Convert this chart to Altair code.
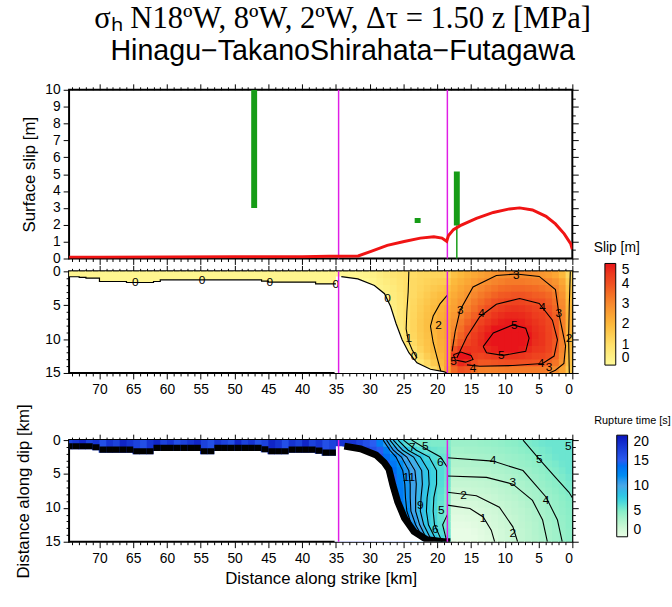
import altair as alt
import pandas as pd

# ---------------------------------------------------------------------------
# Fault geometry (km along strike, plotted from 74.5 km on the left to 0 km)
# ---------------------------------------------------------------------------
STRIKE_MAX = 74.5
SEGMENT_BREAKS_KM = [34.6, 18.5]

# Modelled surface slip along strike
SURF_KM = [74.5, 70.0, 60.0, 50.0, 40.0, 36.0, 34.6, 31.7, 29.8, 27.4, 24.9,
           22.5, 20.5, 19.3, 18.6, 18.35, 17.6, 16.6, 14.2, 11.7, 9.3, 7.8,
           5.9, 3.9, 2.5, 1.2, 0.25, 0.0]
SURF_SLIP = [0.08, 0.08, 0.09, 0.10, 0.11, 0.13, 0.13, 0.15, 0.43, 0.78, 1.01,
             1.21, 1.29, 1.21, 1.02, 1.35, 1.71, 1.95, 2.38, 2.73, 2.94, 3.00,
             2.88, 2.50, 2.05, 1.46, 0.88, 0.55]

# Observed surface offsets: position, lower and upper bound (m)
OBS_KM = [47.1, 22.9, 17.1]
OBS_LO = [3.0, 2.1, 1.95]
OBS_HI = [10.0, 2.4, 5.15]
OBS_STEM_KM = [17.1]
OBS_STEM_HI = [1.95]

# ---------------------------------------------------------------------------
# Slip on the fault plane (m): 15 depth rows (0.5 .. 14.5 km),
# 35 along-strike columns (0.5 .. 34.5 km)
# ---------------------------------------------------------------------------
SLIP = [
    [1.2, 2.0, 2.4, 2.6, 2.75, 2.85, 2.95, 3.0, 3.0, 2.95, 2.9, 2.8, 2.65, 2.5, 2.35, 2.2, 2.0, 1.8,
     1.25, 1.3, 1.3, 1.25, 1.2, 1.1, 1.0, 0.9, 0.8, 0.65, 0.5, 0.35, 0.25, 0.2, 0.15, 0.12, 0.1],
    [1.5, 2.4, 2.8, 3.0, 3.15, 3.2, 3.25, 3.3, 3.3, 3.3, 3.2, 3.1, 2.95, 2.8, 2.6, 2.4, 2.2, 2.0,
     1.5, 1.5, 1.45, 1.35, 1.25, 1.15, 1.0, 0.85, 0.7, 0.55, 0.4, 0.25, 0.1, 0.05, 0, 0, 0],
    [1.7, 2.6, 3.05, 3.3, 3.45, 3.55, 3.6, 3.65, 3.65, 3.6, 3.55, 3.4, 3.25, 3.05, 2.85, 2.6, 2.4, 2.15,
     1.8, 1.7, 1.6, 1.45, 1.3, 1.15, 1.0, 0.8, 0.6, 0.45, 0.3, 0.1, 0, 0, 0, 0, 0],
    [1.85, 2.8, 3.3, 3.6, 3.75, 3.8, 3.9, 3.95, 3.95, 3.9, 3.85, 3.7, 3.5, 3.3, 3.05, 2.8, 2.55, 2.3,
     2.0, 1.9, 1.75, 1.55, 1.35, 1.15, 1.0, 0.75, 0.55, 0.35, 0.1, 0, 0, 0, 0, 0, 0],
    [1.95, 2.95, 3.5, 3.8, 4.0, 4.05, 4.15, 4.25, 4.3, 4.25, 4.15, 4.0, 3.8, 3.55, 3.3, 3.0, 2.75, 2.45,
     2.1, 2.0, 1.85, 1.65, 1.45, 1.2, 0.97, 0.75, 0.5, 0.2, 0, 0, 0, 0, 0, 0, 0],
    [2.05, 3.05, 3.65, 3.95, 4.2, 4.3, 4.45, 4.55, 4.6, 4.55, 4.45, 4.3, 4.05, 3.8, 3.5, 3.2, 2.9, 2.55,
     2.3, 2.15, 1.95, 1.75, 1.5, 1.25, 0.97, 0.72, 0.45, 0.1, 0, 0, 0, 0, 0, 0, 0],
    [2.1, 3.15, 3.75, 4.1, 4.35, 4.45, 4.65, 4.75, 4.8, 4.8, 4.7, 4.55, 4.3, 4.05, 3.75, 3.45, 3.1, 2.7,
     2.4, 2.25, 2.05, 1.8, 1.55, 1.27, 0.97, 0.7, 0.35, 0, 0, 0, 0, 0, 0, 0, 0],
    [2.15, 3.2, 3.85, 4.2, 4.45, 4.6, 4.75, 4.9, 4.95, 4.95, 4.9, 4.75, 4.55, 4.3, 4.0, 3.7, 3.3, 2.85,
     2.45, 2.3, 2.1, 1.85, 1.6, 1.3, 0.97, 0.65, 0.3, 0, 0, 0, 0, 0, 0, 0, 0],
    [2.15, 3.2, 3.9, 4.25, 4.55, 4.7, 4.9, 5.1, 5.2, 5.2, 5.15, 5.0, 4.8, 4.55, 4.25, 3.95, 3.5, 3.0,
     2.45, 2.3, 2.1, 1.85, 1.6, 1.3, 0.95, 0.6, 0.2, 0, 0, 0, 0, 0, 0, 0, 0],
    [2.1, 3.2, 3.95, 4.3, 4.6, 4.75, 5.0, 5.25, 5.35, 5.35, 5.3, 5.15, 4.95, 4.7, 4.45, 4.1, 3.7, 3.2,
     2.45, 2.3, 2.05, 1.8, 1.55, 1.25, 0.9, 0.5, 0.1, 0, 0, 0, 0, 0, 0, 0, 0],
    [2.05, 3.15, 3.9, 4.3, 4.6, 4.7, 4.95, 5.2, 5.3, 5.3, 5.25, 5.1, 4.95, 4.75, 4.5, 4.3, 3.95, 3.5,
     2.4, 2.25, 2.0, 1.75, 1.5, 1.15, 0.8, 0.35, 0, 0, 0, 0, 0, 0, 0, 0, 0],
    [2.0, 3.1, 3.85, 4.25, 4.5, 4.55, 4.75, 4.95, 5.05, 5.05, 5.0, 4.9, 4.8, 4.65, 4.55, 4.6, 4.5, 4.0,
     2.4, 2.2, 1.95, 1.7, 1.35, 1.0, 0.6, 0.2, 0, 0, 0, 0, 0, 0, 0, 0, 0],
    [1.9, 3.0, 3.7, 4.05, 4.25, 4.3, 4.45, 4.55, 4.6, 4.6, 4.55, 4.5, 4.4, 4.3, 4.4, 5.1, 5.2, 4.6,
     2.4, 2.1, 1.8, 1.5, 1.1, 0.7, 0.35, 0.05, 0, 0, 0, 0, 0, 0, 0, 0, 0],
    [1.8, 2.8, 3.4, 3.7, 3.9, 3.95, 4.0, 4.0, 4.05, 4.05, 4.0, 3.95, 3.9, 3.9, 4.1, 4.6, 4.8, 4.2,
     2.4, 1.95, 1.55, 1.15, 0.75, 0.4, 0.1, 0, 0, 0, 0, 0, 0, 0, 0, 0, 0],
    [1.6, 2.5, 2.95, 3.15, 3.3, 3.3, 3.3, 3.3, 3.3, 3.3, 3.25, 3.2, 3.15, 3.2, 3.5, 3.9, 4.0, 3.6,
     2.5, 1.7, 1.15, 0.7, 0.35, 0.1, 0, 0, 0, 0, 0, 0, 0, 0, 0, 0, 0],
]

# Rupture time (s) on the same cells
RUPT = [
    [5.8, 5.8, 5.8, 5.8, 5.7, 5.5, 5.3, 5.1, 4.9, 4.8, 4.6, 4.5, 4.4, 4.3, 4.2, 4.2, 4.2, 4.2,
     5.3, 5.3, 5.3, 5.4, 5.5, 5.8, 6.5, 7.5, 9.0, 11.0, 13.0, 15.0, 16.0, 17.0, 18.0, 18.0, 18.0],
    [5.8, 5.8, 5.8, 5.6, 5.4, 5.2, 5.0, 4.8, 4.6, 4.5, 4.3, 4.2, 4.1, 4.0, 3.9, 3.9, 3.8, 3.8,
     5.5, 5.6, 5.8, 6.1, 6.6, 7.3, 8.2, 9.5, 11.0, 13.0, 15.0, 16.0, 17.0, 18.0, 18.0, 18.0, 18.0],
    [5.8, 5.8, 5.7, 5.4, 5.2, 5.0, 4.7, 4.5, 4.3, 4.2, 4.0, 3.9, 3.8, 3.7, 3.6, 3.5, 3.5, 3.5,
     5.8, 6.0, 6.5, 7.2, 8.0, 9.0, 10.0, 11.2, 12.5, 14.0, 16.0, 17.0, 18.0, 18.0, 18.0, 18.0, 18.0],
    [5.8, 5.7, 5.4, 5.2, 4.9, 4.7, 4.5, 4.3, 4.1, 3.9, 3.7, 3.6, 3.4, 3.3, 3.3, 3.2, 3.2, 3.2,
     6.0, 6.4, 7.0, 7.8, 8.7, 9.7, 10.8, 12.0, 13.5, 15.0, 16.0, 17.0, 18.0, 18.0, 18.0, 18.0, 18.0],
    [5.8, 5.5, 5.2, 5.0, 4.7, 4.5, 4.2, 4.0, 3.8, 3.6, 3.4, 3.3, 3.1, 3.0, 2.9, 2.9, 2.8, 2.8,
     6.0, 6.6, 7.3, 8.2, 9.2, 10.2, 11.3, 12.5, 14.0, 15.5, 17.0, 18.0, 18.0, 18.0, 18.0, 18.0, 18.0],
    [5.6, 5.3, 5.0, 4.8, 4.5, 4.2, 4.0, 3.8, 3.5, 3.3, 3.1, 3.0, 2.8, 2.7, 2.6, 2.5, 2.5, 2.5,
     5.9, 6.6, 7.4, 8.3, 9.3, 10.4, 11.5, 12.8, 14.5, 16.0, 17.0, 18.0, 18.0, 18.0, 18.0, 18.0, 18.0],
    [5.4, 5.1, 4.9, 4.6, 4.3, 4.0, 3.8, 3.5, 3.3, 3.1, 2.9, 2.7, 2.5, 2.4, 2.3, 2.2, 2.2, 2.2,
     5.7, 6.5, 7.3, 8.3, 9.3, 10.4, 11.6, 13.0, 14.5, 16.0, 17.0, 18.0, 18.0, 18.0, 18.0, 18.0, 18.0],
    [5.3, 5.0, 4.7, 4.4, 4.1, 3.8, 3.6, 3.3, 3.1, 2.8, 2.6, 2.4, 2.2, 2.1, 2.0, 1.9, 1.8, 1.8,
     5.5, 6.3, 7.2, 8.2, 9.2, 10.4, 11.7, 13.2, 15.0, 16.0, 17.0, 18.0, 18.0, 18.0, 18.0, 18.0, 18.0],
    [5.1, 4.8, 4.5, 4.2, 3.9, 3.7, 3.4, 3.1, 2.8, 2.6, 2.4, 2.1, 1.9, 1.8, 1.6, 1.6, 1.5, 1.5,
     5.3, 6.1, 7.0, 8.0, 9.1, 10.3, 11.7, 13.3, 15.0, 16.0, 17.0, 18.0, 18.0, 18.0, 18.0, 18.0, 18.0],
    [5.0, 4.7, 4.4, 4.1, 3.8, 3.5, 3.2, 2.9, 2.6, 2.4, 2.1, 1.9, 1.7, 1.5, 1.3, 1.2, 1.2, 1.2,
     5.2, 6.0, 6.9, 7.9, 9.0, 10.3, 11.8, 13.5, 15.0, 16.0, 17.0, 18.0, 18.0, 18.0, 18.0, 18.0, 18.0],
    [4.9, 4.6, 4.3, 4.0, 3.7, 3.3, 3.0, 2.7, 2.5, 2.2, 1.9, 1.6, 1.4, 1.2, 1.0, 0.9, 0.8, 0.8,
     5.2, 6.0, 6.9, 7.9, 9.0, 10.4, 12.0, 14.0, 15.0, 16.0, 17.0, 18.0, 18.0, 18.0, 18.0, 18.0, 18.0],
    [4.8, 4.5, 4.2, 3.9, 3.5, 3.2, 2.9, 2.6, 2.3, 2.0, 1.7, 1.4, 1.2, 0.9, 0.7, 0.6, 0.5, 0.5,
     5.3, 6.0, 6.9, 8.0, 9.3, 10.8, 12.5, 14.5, 15.0, 16.0, 17.0, 18.0, 18.0, 18.0, 18.0, 18.0, 18.0],
    [4.8, 4.4, 4.1, 3.8, 3.5, 3.1, 2.8, 2.5, 2.2, 1.9, 1.6, 1.3, 1.0, 0.7, 0.5, 0.3, 0.2, 0.2,
     5.5, 6.2, 7.1, 8.3, 9.8, 11.5, 13.5, 15.0, 15.0, 16.0, 17.0, 18.0, 18.0, 18.0, 18.0, 18.0, 18.0],
    [4.7, 4.4, 4.0, 3.7, 3.4, 3.1, 2.7, 2.4, 2.1, 1.8, 1.4, 1.1, 0.8, 0.5, 0.2, 0.0, 0.0, 0.0,
     5.8, 6.5, 7.5, 8.8, 10.5, 12.5, 14.5, 15.0, 15.0, 16.0, 17.0, 18.0, 18.0, 18.0, 18.0, 18.0, 18.0],
    [4.7, 4.3, 4.0, 3.7, 3.3, 3.0, 2.7, 2.4, 2.0, 1.7, 1.4, 1.0, 0.7, 0.4, 0.1, 0.0, 0.0, 0.0,
     6.2, 7.0, 8.2, 9.8, 11.8, 14.0, 15.0, 15.0, 15.0, 16.0, 17.0, 18.0, 18.0, 18.0, 18.0, 18.0, 18.0],
]

# Shallow ruptured strip on the northern segment (km 35 .. 74.5)
STRIP_EDGES = list(range(35, 75)) + [74.5]
STRIP_SLIP_DEPTH = [1.85, 1.85, 1.85, 1.6, 1.6, 1.6, 1.6, 1.6, 1.6, 1.6, 1.45,
                    1.25, 1.25, 1.25, 1.25, 1.25, 1.25, 1.25, 1.25, 1.25, 1.25,
                    1.25, 1.25, 1.25, 1.25, 1.25, 1.5, 1.65, 1.65, 1.65, 1.65,
                    1.5, 1.5, 1.5, 1.5, 1.0, 1.0, 0.9, 0.8, 0.8]
STRIP_SLIP = [0.2, 0.2, 0.2, 0.2, 0.2, 0.2, 0.2, 0.2, 0.2, 0.2, 0.2,
              0.18, 0.18, 0.18, 0.18, 0.18, 0.18, 0.18, 0.18, 0.18, 0.18,
              0.18, 0.18, 0.18, 0.18, 0.18, 0.18, 0.18, 0.18, 0.18, 0.18,
              0.18, 0.18, 0.18, 0.18, 0.2, 0.2, 0.2, 0.2, 0.2]
STRIP_RUPT_DEPTH = [2.3, 2.3, 2.0, 1.85, 1.85, 1.85, 1.85, 2.1, 2.1, 2.1, 1.8,
                    1.6, 1.6, 1.6, 1.6, 1.6, 1.6, 1.6, 2.1, 2.1, 1.6,
                    1.6, 1.6, 1.6, 1.6, 1.6, 1.6, 2.1, 2.1, 2.1, 1.85,
                    1.85, 1.85, 1.85, 1.85, 1.5, 1.35, 1.35, 1.35, 1.35]
STRIP_RUPT = [17, 16, 18, 17, 19, 17, 18, 16, 18, 19, 17,
              16, 18, 17, 19, 16, 17, 18, 16, 17, 19,
              18, 17, 16, 18, 17, 19, 18, 16, 17, 18,
              19, 17, 18, 16, 18, 17, 19, 18, 17]

# Edge of the unruptured area on the central segment (km, depth)
SLIP_EDGE_KM = [34.2, 31.75, 29.3, 27.8, 26.9, 26.1, 25.2, 24.2, 23.0, 21.0, 19.05, 18.5]
SLIP_EDGE_D = [0.77, 1.12, 2.08, 3.3, 5.2, 7.7, 10.1, 12.0, 13.5, 14.45, 14.8, 15.0]
RUPT_EDGE_KM = [34.2, 31.8, 29.5, 28.3, 27.6, 27.0, 26.3, 25.3, 23.9, 22.0, 19.5, 18.5]
RUPT_EDGE_D = [0.9, 1.3, 2.2, 3.3, 4.3, 6.7, 9.1, 11.5, 13.5, 14.7, 15.0, 15.0]

# Slip contours (m): (level id, km, depth)
SLIP_CONTOURS = {
    "5a": [(13.2, 11.1), (11.7, 9.1), (8.8, 7.9), (6.9, 8.4), (6.4, 9.85), (6.9, 11.8),
           (10.3, 12.4), (12.7, 12.0), (13.2, 11.1)],
    "5b": [(17.6, 12.3), (16.5, 11.9), (15.0, 12.4), (14.7, 13.0), (15.8, 13.4),
           (17.3, 13.1), (17.6, 12.3)],
    "4": [(17.1, 12.8), (15.6, 9.6), (13.7, 6.7), (11.25, 4.85), (7.8, 4.0), (4.9, 4.75),
          (2.95, 7.2), (2.2, 10.1), (2.7, 12.5), (4.4, 13.6), (8.8, 13.9), (13.7, 14.0),
          (15.6, 13.8)],
    "3": [(17.8, 11.8), (17.35, 8.9), (16.6, 5.7), (14.7, 2.3), (11.25, 0.6), (8.3, 0.4),
          (4.9, 0.75), (2.5, 2.7), (2.0, 6.2), (1.0, 11.0), (1.25, 13.6), (2.5, 14.6),
          (3.4, 15.0)],
    "2a": [(0.3, 0.0), (0.45, 5.0), (0.55, 9.9), (0.45, 15.0)],
    "2b": [(18.5, 3.5), (19.6, 4.8), (20.6, 6.6), (21.0, 8.1), (20.6, 10.5), (20.0, 12.8),
           (19.55, 14.45), (19.4, 15.0)],
    "1": [(24.2, 0.0), (24.3, 3.0), (24.5, 6.0), (24.6, 8.5), (24.3, 10.2), (23.7, 11.6),
          (23.0, 12.8)],
}
SLIP_LABELS = [("0", 64.7, 1.65), ("0", 54.8, 1.25), ("0", 44.8, 1.6), ("0", 35.0, 1.85),
               ("0", 27.35, 4.0), ("1", 24.2, 9.85), ("0", 23.45, 12.5), ("2", 19.8, 7.9),
               ("3", 8.3, 0.5), ("3", 16.6, 5.7), ("4", 13.45, 6.2), ("4", 4.4, 5.2),
               ("3", 2.0, 6.2), ("5", 8.6, 7.9), ("5", 10.5, 12.3), ("2", 0.5, 9.9),
               ("4", 4.65, 13.5), ("3", 3.45, 14.1), ("4", 14.7, 14.2), ("5", 17.6, 13.2)]

# Rupture-time contours (s)
RUPT_CONTOURS = {
    "1": [(18.5, 9.6), (15.15, 10.1), (13.2, 11.35), (12.0, 13.3), (11.5, 15.0)],
    "2": [(18.5, 7.7), (14.2, 8.2), (10.8, 9.9), (8.8, 12.8), (8.1, 15.0)],
    "3": [(18.5, 5.3), (12.7, 5.5), (8.8, 6.5), (5.9, 8.9), (4.4, 11.8), (3.7, 15.0)],
    "4": [(18.5, 2.6), (11.75, 3.1), (7.3, 4.5), (3.9, 8.4), (2.2, 11.8), (1.5, 15.0)],
    "5": [(7.3, 0.0), (4.9, 2.8), (2.5, 5.5), (0.5, 7.7), (0.0, 8.5)],
    "6a": [(23.8, 0.0), (21.3, 1.5), (19.5, 2.5), (18.5, 4.0)],
    "6b": [(18.5, 11.0), (19.2, 12.5), (18.7, 14.5), (18.5, 15.0)],
    "7": [(25.0, 0.0), (23.1, 1.5), (21.2, 2.5), (20.1, 4.5), (20.1, 6.5), (20.5, 8.5),
          (20.6, 10.5), (20.4, 12.5), (19.5, 14.5), (19.3, 15.0)],
    "8": [(25.8, 0.0), (24.3, 1.5), (22.5, 2.5), (21.3, 4.5), (21.2, 6.5), (21.5, 8.5),
          (21.6, 10.5), (21.3, 12.5), (20.3, 14.5), (20.0, 15.0)],
    "9": [(26.5, 0.0), (25.1, 1.5), (23.5, 2.5), (22.3, 4.5), (22.2, 6.5), (22.4, 8.5),
          (22.5, 10.5), (22.0, 12.5), (21.0, 14.5), (20.7, 15.0)],
    "10": [(27.0, 0.0), (25.8, 1.5), (24.5, 2.5), (23.3, 4.5), (23.1, 6.5), (23.2, 8.5),
           (23.2, 10.5), (22.6, 12.5), (21.6, 14.5), (21.3, 15.0)],
    "11": [(27.5, 0.0), (26.5, 1.5), (25.3, 2.5), (24.2, 4.5), (24.0, 6.5), (24.0, 8.5),
           (23.9, 10.5), (23.2, 12.5), (22.1, 14.5)],
    "12": [(28.0, 0.0), (27.0, 1.5), (26.1, 2.5), (25.1, 4.5), (24.8, 6.5), (24.7, 8.5),
           (24.5, 10.5), (23.8, 12.5), (22.6, 14.5)],
}
RUPT_LABELS = [("1", 13.2, 11.5), ("2", 16.1, 8.15), ("2", 8.8, 13.7), ("3", 8.8, 6.2),
               ("4", 11.75, 2.95), ("4", 3.9, 8.9), ("5", 4.9, 2.8), ("5", 0.6, 0.9),
               ("7", 23.7, 1.1), ("5", 21.75, 0.9), ("6", 19.55, 3.3), ("11", 24.2, 5.5),
               ("9", 22.5, 9.6), ("5", 19.4, 10.3), ("6", 20.3, 13.2)]

SLIP_STOPS = [0, 1, 2, 3, 4, 5]
SLIP_COLORS = ["#fffa98", "#ffe06a", "#fcb93c", "#f78a2e", "#f05022", "#e8141a"]
RUPT_STOPS = [0, 5, 10, 15, 20]
RUPT_COLORS = ["#e8fde6", "#88eec8", "#4aa8e8", "#2a5cf0", "#0a12bc"]

# ---------------------------------------------------------------------------
# Tables
# ---------------------------------------------------------------------------
cells = []
for i, (srow, trow) in enumerate(zip(SLIP, RUPT)):
    for j, (s, t) in enumerate(zip(srow, trow)):
        cells.append({"k0": j, "k1": j + 1, "d0": i, "d1": i + 1, "slip": s, "t": t})
cells = pd.DataFrame(cells)

strip = pd.DataFrame({
    "k0": STRIP_EDGES[:-1], "k1": STRIP_EDGES[1:],
    "top": 0.0,
    "sd": STRIP_SLIP_DEPTH, "slip": STRIP_SLIP,
    "td": STRIP_RUPT_DEPTH, "t": STRIP_RUPT,
})
strip_steps = pd.DataFrame(
    [{"k": k, "d": d, "o": 2 * n} for n, (k, d) in enumerate(zip(STRIP_EDGES[:-1], STRIP_SLIP_DEPTH))]
    + [{"k": k, "d": d, "o": 2 * n + 1} for n, (k, d) in enumerate(zip(STRIP_EDGES[1:], STRIP_SLIP_DEPTH))]
)

slip_edge = pd.DataFrame({"kb": SLIP_EDGE_KM, "d": SLIP_EDGE_D, "ke": 35.2})
rupt_edge = pd.DataFrame({"kb": RUPT_EDGE_KM, "d": RUPT_EDGE_D, "ke": 35.2})


def contour_table(contours):
    rows = []
    for cid, pts in contours.items():
        for n, (k, d) in enumerate(pts):
            rows.append({"cid": cid, "o": n, "k": k, "d": d})
    return pd.DataFrame(rows)


slip_lines = contour_table(SLIP_CONTOURS)
rupt_lines = contour_table(RUPT_CONTOURS)
slip_lbl = pd.DataFrame(SLIP_LABELS, columns=["txt", "k", "d"])
rupt_lbl = pd.DataFrame(RUPT_LABELS, columns=["txt", "k", "d"])

surf = pd.DataFrame({"k": SURF_KM, "s": SURF_SLIP})
obs = pd.DataFrame({"k": OBS_KM, "lo": OBS_LO, "hi": OBS_HI})
stem = pd.DataFrame({"k": OBS_STEM_KM, "lo": 0.0, "hi": OBS_STEM_HI})
breaks = pd.DataFrame({"k": SEGMENT_BREAKS_KM})
anchor = pd.DataFrame({"k": [0.0], "v": [0.0]})

# ---------------------------------------------------------------------------
# Scales and axes
# ---------------------------------------------------------------------------
FONT = "Liberation Sans"
xscale = alt.Scale(domain=[STRIKE_MAX, 0], nice=False, zero=False)
dscale = alt.Scale(domain=[0, 15], reverse=True, nice=False, zero=False)
sscale = alt.Scale(domain=[0, 10], nice=False)
slip_cs = alt.Scale(type="linear", domain=SLIP_STOPS, range=SLIP_COLORS, clamp=True)
rupt_cs = alt.Scale(type="linear", domain=RUPT_STOPS, range=RUPT_COLORS, clamp=True)

major5 = {"condition": {"test": "datum.value % 5 === 0", "value": 6}, "value": 3}
major1 = {"condition": {"test": "datum.value % 1 === 0", "value": 6}, "value": 3}
KM_TICKS = list(range(0, 75))
DEPTH_TICKS = list(range(0, 16))
SLIP_TICKS = [v / 2 for v in range(0, 21)]
ONLY5 = "datum.value % 5 === 0 ? datum.label : ''"

x_plain = alt.Axis(values=KM_TICKS, labels=False, title=None, tickSize=major5,
                   domain=False, grid=False)
x_labeled = alt.Axis(values=KM_TICKS, title=None, tickSize=major5, domain=False, grid=False,
                     labelExpr=ONLY5, labelPadding=4)
x_titled = alt.Axis(values=KM_TICKS, title="Distance along strike [km]", tickSize=major5,
                    domain=False, grid=False, labelExpr=ONLY5, labelPadding=4,
                    titlePadding=5)
x_top = alt.Axis(values=KM_TICKS, labels=False, title=None, tickSize=major5, domain=False,
                 grid=False, orient="top")
y_surf = alt.Axis(values=SLIP_TICKS, title="Surface slip [m]", tickSize=major1, domain=False,
                  grid=False, format="d",
                  labelExpr="datum.value % 1 === 0 ? datum.label : ''",
                  labelPadding=3, titlePadding=6)
y_surf_r = alt.Axis(values=SLIP_TICKS, labels=False, title=None, tickSize=major1,
                    domain=False, grid=False, orient="right")
y_depth = alt.Axis(values=DEPTH_TICKS, title=None, tickSize=major5, domain=False, grid=False,
                   labelExpr=ONLY5, labelPadding=3)
y_depth_t = alt.Axis(values=DEPTH_TICKS, title="Distance along dip [km]", tickSize=major5,
                     domain=False, grid=False, labelExpr=ONLY5, labelPadding=3,
                     titlePadding=13)
y_depth_r = alt.Axis(values=DEPTH_TICKS, labels=False, title=None, tickSize=major5,
                     domain=False, grid=False, orient="right")

W, H_TOP, H_FAULT = 510, 171, 103
MAGENTA = "#e01ee6"
GREEN = "#169c16"


def with_frame_ticks(content, y_scale, y_axis_right):
    """Add tick marks on the top and right edges of a panel."""
    ticks = alt.Chart(anchor).mark_point(opacity=0).encode(
        x=alt.X("k:Q", scale=xscale, axis=x_top),
        y=alt.Y("v:Q", scale=y_scale, axis=y_axis_right),
    )
    return alt.layer(content, ticks).resolve_axis(x="independent", y="independent")


# ---------------------------------------------------------------------------
# Surface slip panel
# ---------------------------------------------------------------------------
def sx(field):
    return alt.X(field, type="quantitative", scale=xscale, axis=x_plain)


def sy(field):
    return alt.Y(field, type="quantitative", scale=sscale, axis=y_surf)


top_content = alt.layer(
    alt.Chart(breaks).mark_rule(color=MAGENTA, strokeWidth=1.5).encode(x=sx("k")),
    alt.Chart(stem).mark_rule(color=GREEN, strokeWidth=1.5).encode(x=sx("k"), y=sy("lo"), y2="hi"),
    alt.Chart(obs).mark_rule(color=GREEN, strokeWidth=6, strokeCap="butt", clip=True).encode(
        x=sx("k"), y=sy("lo"), y2="hi"),
    alt.Chart(surf).mark_line(color="#f01414", strokeWidth=3, clip=True).encode(
        x=sx("k"), y=sy("s"), order="k:Q"),
)
top = with_frame_ticks(top_content, sscale, y_surf_r).properties(width=W, height=H_TOP)


# ---------------------------------------------------------------------------
# Fault-plane panels
# ---------------------------------------------------------------------------
def fault_panel(value, cscale, legend, x_axis, y_axis, edge, lines, labels, strip_depth,
                band):
    def fx(field):
        return alt.X(field, type="quantitative", scale=xscale, axis=x_axis)

    def fy(field):
        return alt.Y(field, type="quantitative", scale=dscale, axis=y_axis)

    # cells are drawn a touch oversize so neighbours overlap without seams
    grid = alt.Chart(cells).transform_calculate(
        k1e="datum.k1 + 0.12", d1e="datum.d1 + 0.12"
    ).mark_rect(clip=True).encode(
        x=fx("k0"), x2="k1e", y=fy("d0"), y2="d1e",
        color=alt.Color(f"{value}:Q", scale=cscale, legend=legend),
    )
    strip_rect = alt.Chart(strip).transform_calculate(
        k1e="datum.k1 + 0.12"
    ).mark_rect(clip=True).encode(
        x=fx("k0"), x2="k1e", y=fy("top"), y2=strip_depth,
        color=alt.Color(f"{value}:Q", scale=cscale, legend=legend),
    )
    contour = alt.Chart(lines).mark_line(color="black", strokeWidth=1.1, clip=True).encode(
        x=fx("k"), y=fy("d"), detail="cid:N", order="o:Q")
    mask = alt.Chart(edge).mark_area(orient="horizontal", color="white").encode(
        y=fy("d"), x=fx("kb"), x2="ke")
    text = alt.Chart(labels).mark_text(font=FONT, fontSize=12, color="black").encode(
        x=fx("k"), y=fy("d"), text="txt:N")
    rules = alt.Chart(breaks).mark_rule(color=MAGENTA, strokeWidth=1.5).encode(x=fx("k"))

    layers = [grid, contour, mask, strip_rect]
    if band:
        layers.append(
            alt.Chart(strip).transform_calculate(bt=f"datum.{strip_depth} - 0.9")
            .mark_rect(color="black", clip=True)
            .encode(x=fx("k0"), x2="k1", y=fy("bt"), y2=strip_depth))
        layers.append(
            alt.Chart(edge).transform_calculate(kc="datum.kb - 0.45")
            .mark_line(color="black", strokeWidth=7, clip=True)
            .encode(x=fx("kc"), y=fy("d"), order="d:Q"))
    else:
        layers.append(
            alt.Chart(strip_steps).mark_line(color="black", strokeWidth=1.2, clip=True).encode(
                x=fx("k"), y=fy("d"), order="o:Q"))
        layers.append(
            alt.Chart(edge).mark_line(color="black", strokeWidth=1.2, clip=True).encode(
                x=fx("kb"), y=fy("d"), order="d:Q"))
    layers += [text, rules]
    return with_frame_ticks(alt.layer(*layers), dscale, y_depth_r).properties(
        width=W, height=H_FAULT)


legend_common = dict(type="gradient", orient="none", direction="vertical",
                     gradientLength=103, gradientThickness=11, gradientStrokeColor="black",
                     gradientStrokeWidth=1, labelFontSize=14, labelFont=FONT,
                     labelColor="black", labelOffset=6, labelOverlap=False,
                     titleFont=FONT, titleFontWeight="normal", titleColor="black",
                     titleAnchor="middle", legendX=532)

mid = fault_panel("slip", slip_cs,
                  alt.Legend(title="Slip [m]", values=SLIP_STOPS, titleFontSize=14,
                             titlePadding=9, legendY=-31, **legend_common),
                  x_labeled, y_depth, slip_edge, slip_lines, slip_lbl, "sd", band=False)
bot = fault_panel("t", rupt_cs,
                  alt.Legend(title="Rupture time [s]", values=RUPT_STOPS, titleFontSize=11,
                             titlePadding=9, legendY=-25, **legend_common),
                  x_titled, y_depth_t, rupt_edge, rupt_lines, rupt_lbl, "td", band=True)

lower = alt.vconcat(mid, bot, spacing=68, bounds="flush").resolve_scale(
    color="independent", y="independent")

chart = alt.vconcat(top, lower, spacing=13, bounds="flush").resolve_scale(
    color="independent", y="independent"
).properties(
    title=alt.TitleParams(
        text="σₕ N18ºW, 8ºW, 2ºW, Δτ = 1.50 z [MPa]",
        subtitle="Hinagu−TakanoShirahata−Futagawa",
        font="Liberation Serif", fontSize=31, fontWeight="normal", color="black",
        subtitleFont=FONT, subtitleFontSize=29, subtitleColor="black",
        subtitlePadding=3, anchor="middle", offset=15),
    padding={"left": 13, "top": -1, "right": 0, "bottom": 4},
).configure_axis(
    labelFont=FONT, titleFont=FONT, labelFontSize=14, titleFontSize=17,
    titleFontWeight="normal", labelColor="black", titleColor="black", tickColor="black",
    tickWidth=1,
).configure_view(stroke="black", strokeWidth=2)

chart.save("out.html", embed_options={"renderer": "svg", "actions": False})
